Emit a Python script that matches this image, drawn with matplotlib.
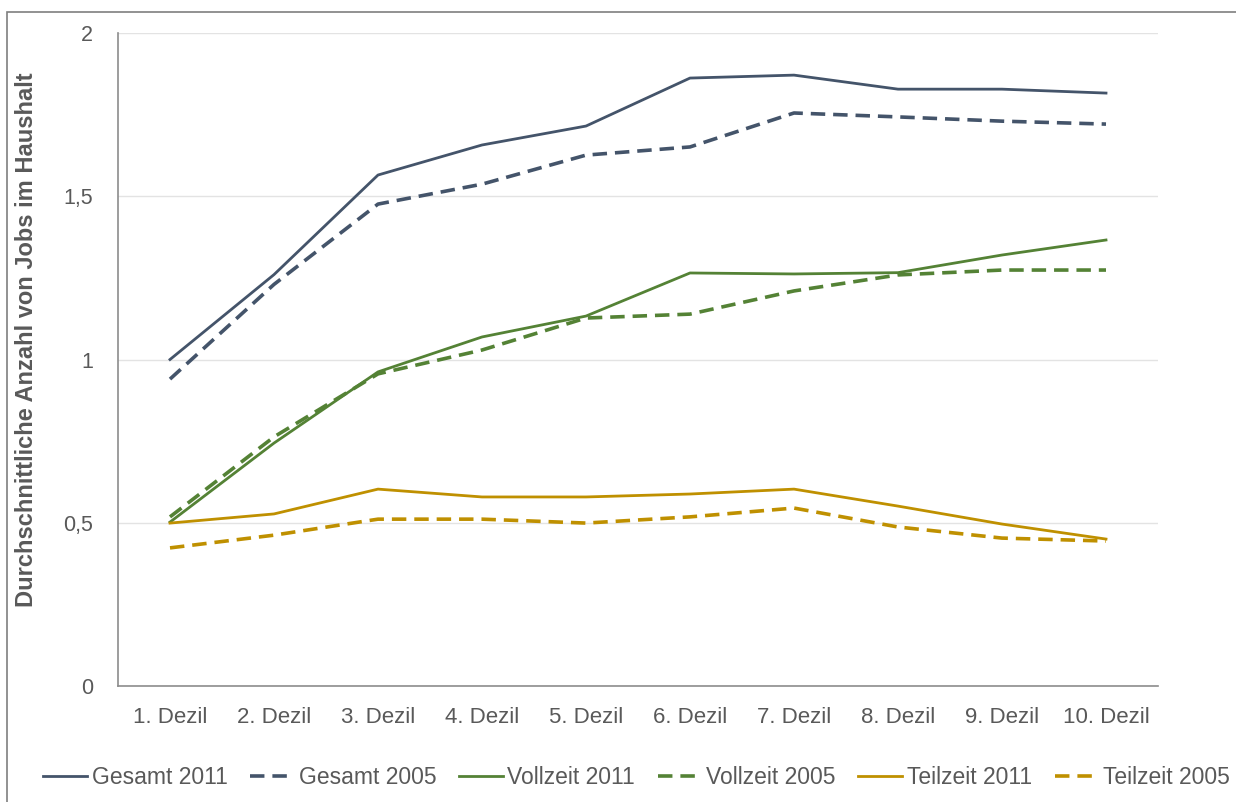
import numpy as np
import matplotlib.pyplot as plt
from matplotlib.patches import Rectangle

dezile = ['1. Dezil', '2. Dezil', '3. Dezil', '4. Dezil', '5. Dezil',
          '6. Dezil', '7. Dezil', '8. Dezil', '9. Dezil', '10. Dezil']

gesamt_2011 = [1.00, 1.26, 1.565, 1.657, 1.715, 1.862, 1.871, 1.828, 1.828, 1.816]
gesamt_2005 = [0.94, 1.23, 1.476, 1.537, 1.626, 1.651, 1.755, 1.743, 1.730, 1.721]
vollzeit_2011 = [0.502, 0.744, 0.962, 1.069, 1.133, 1.265, 1.262, 1.266, 1.320, 1.366]
vollzeit_2005 = [0.518, 0.763, 0.956, 1.029, 1.127, 1.139, 1.210, 1.259, 1.274, 1.274]
teilzeit_2011 = [0.499, 0.527, 0.603, 0.579, 0.579, 0.588, 0.603, 0.551, 0.496, 0.450]
teilzeit_2005 = [0.423, 0.462, 0.511, 0.511, 0.499, 0.518, 0.545, 0.487, 0.453, 0.444]

c_ges = '#44546A'
c_voll = '#548235'
c_teil = '#BF9000'
grau = '#595959'

plt.rcParams['font.family'] = ['Liberation Sans', 'DejaVu Sans']

fig = plt.figure(figsize=(12.36, 8.02), dpi=100)
ax = fig.add_axes([118 / 1236, 1 - 686 / 802, 1040 / 1236, 653 / 802])

x = np.arange(len(dezile))
lw = 2.0
dash = (0, (4, 2.2))
ax.plot(x, gesamt_2011, color=c_ges, lw=lw, label='Gesamt 2011')
ax.plot(x, gesamt_2005, color=c_ges, lw=lw + 0.6, ls=dash, label='Gesamt 2005')
ax.plot(x, vollzeit_2011, color=c_voll, lw=lw, label='Vollzeit 2011')
ax.plot(x, vollzeit_2005, color=c_voll, lw=lw + 0.6, ls=dash, label='Vollzeit 2005')
ax.plot(x, teilzeit_2011, color=c_teil, lw=lw, label='Teilzeit 2011')
ax.plot(x, teilzeit_2005, color=c_teil, lw=lw + 0.6, ls=dash, label='Teilzeit 2005')

ax.set_xlim(-0.5, len(dezile) - 0.5)
ax.set_ylim(0, 2)
ax.set_xticks(x)
ax.set_xticklabels(dezile)
ax.set_yticks([0, 0.5, 1, 1.5, 2])
ax.set_yticklabels(['0', '0,5', '1', '1,5', '2'])
ax.tick_params(length=0, labelsize=15.5, colors=grau, pad=18)
ax.tick_params(axis='x', labelsize=16, pad=15)
ax.grid(axis='y', color='#E3E3E3', lw=1)
ax.set_axisbelow(True)
for s in ['top', 'right']:
    ax.spines[s].set_visible(False)
for s in ['left', 'bottom']:
    ax.spines[s].set_color('#8C8C8C')
    ax.spines[s].set_linewidth(1.2)

ax.set_ylabel('Durchschnittliche Anzahl von Jobs im Haushalt', fontsize=17,
              fontweight='bold', color=grau)
ax.yaxis.set_label_coords(-80 / 1040, 0.53)

fig.legend(loc='center', bbox_to_anchor=(0.515, 1 - 778 / 802), ncol=6,
           frameon=False, fontsize=16.5, handlelength=1.9, handletextpad=0.2,
           columnspacing=1.0, labelcolor=grau)

fig.patches.append(Rectangle((7 / 1236, -0.05), 1.1, 1 - 12 / 802 + 0.05,
                             transform=fig.transFigure, fill=False,
                             edgecolor='#7F7F7F', lw=1.2))

fig.savefig('out.png', dpi=100)
